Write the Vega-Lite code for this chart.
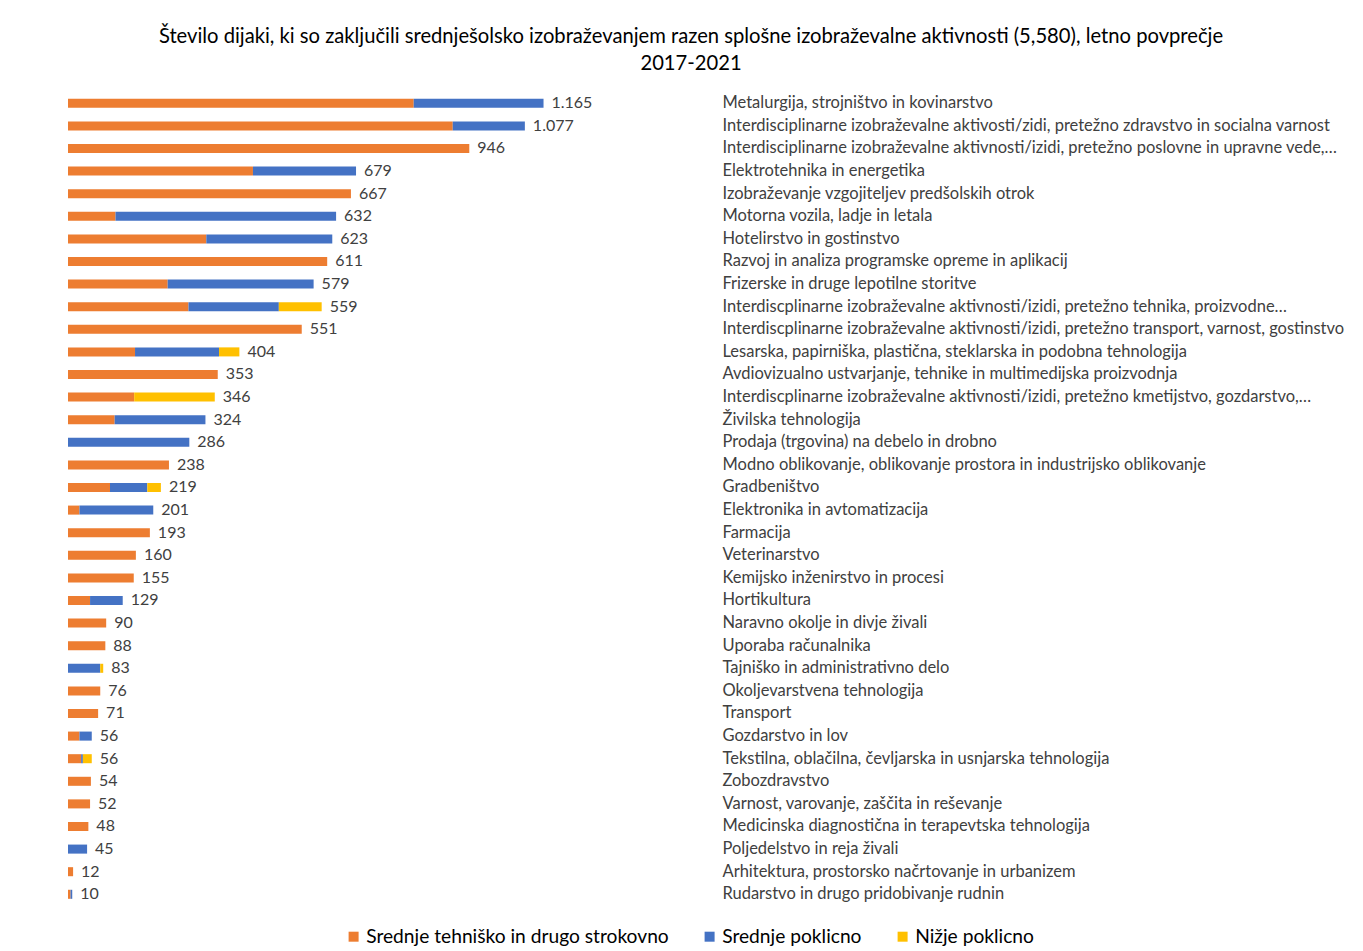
{
  "$schema": "https://vega.github.io/schema/vega-lite/v6.json",
  "width": 650,
  "height": 813.6,
  "padding": {"left": 67, "top": 26, "right": 0, "bottom": 0},
  "background": "white",
  "config": {"view": {"stroke": null}, "font": "Lato"},
  "title": {
    "text": ["Število dijaki, ki so zaključili srednješolsko izobraževanjem razen splošne izobraževalne aktivnosti (5,580), letno povprečje", "2017-2021"],
    "fontSize": 20.2, "fontWeight": "normal", "color": "#000000", "lineHeight": 27,
    "anchor": "middle", "frame": "group", "dx": 298, "offset": 18, "font": "Lato"
  },
  "data": {"values": [
    {"r":1,"cat":"Metalurgija, strojništvo in kovinarstvo","lvl":"Srednje tehniško in drugo strokovno","v":815,"label":"1.165"},
    {"r":1,"cat":"Metalurgija, strojništvo in kovinarstvo","lvl":"Srednje poklicno","v":306,"label":"1.165"},
    {"r":2,"cat":"Interdisciplinarne izobraževalne aktivosti/zidi, pretežno zdravstvo in socialna varnost","lvl":"Srednje tehniško in drugo strokovno","v":907,"label":"1.077"},
    {"r":2,"cat":"Interdisciplinarne izobraževalne aktivosti/zidi, pretežno zdravstvo in socialna varnost","lvl":"Srednje poklicno","v":170,"label":"1.077"},
    {"r":3,"cat":"Interdisciplinarne izobraževalne aktivnosti/izidi, pretežno poslovne in upravne vede,…","lvl":"Srednje tehniško in drugo strokovno","v":946,"label":"946"},
    {"r":4,"cat":"Elektrotehnika in energetika","lvl":"Srednje tehniško in drugo strokovno","v":436,"label":"679"},
    {"r":4,"cat":"Elektrotehnika in energetika","lvl":"Srednje poklicno","v":243,"label":"679"},
    {"r":5,"cat":"Izobraževanje vzgojiteljev predšolskih otrok","lvl":"Srednje tehniško in drugo strokovno","v":667,"label":"667"},
    {"r":6,"cat":"Motorna vozila, ladje in letala","lvl":"Srednje tehniško in drugo strokovno","v":112,"label":"632"},
    {"r":6,"cat":"Motorna vozila, ladje in letala","lvl":"Srednje poklicno","v":520,"label":"632"},
    {"r":7,"cat":"Hotelirstvo in gostinstvo","lvl":"Srednje tehniško in drugo strokovno","v":326,"label":"623"},
    {"r":7,"cat":"Hotelirstvo in gostinstvo","lvl":"Srednje poklicno","v":297,"label":"623"},
    {"r":8,"cat":"Razvoj in analiza programske opreme in aplikacij","lvl":"Srednje tehniško in drugo strokovno","v":611,"label":"611"},
    {"r":9,"cat":"Frizerske in druge lepotilne storitve","lvl":"Srednje tehniško in drugo strokovno","v":235,"label":"579"},
    {"r":9,"cat":"Frizerske in druge lepotilne storitve","lvl":"Srednje poklicno","v":344,"label":"579"},
    {"r":10,"cat":"Interdiscplinarne izobraževalne aktivnosti/izidi, pretežno tehnika, proizvodne…","lvl":"Srednje tehniško in drugo strokovno","v":284,"label":"559"},
    {"r":10,"cat":"Interdiscplinarne izobraževalne aktivnosti/izidi, pretežno tehnika, proizvodne…","lvl":"Srednje poklicno","v":213,"label":"559"},
    {"r":10,"cat":"Interdiscplinarne izobraževalne aktivnosti/izidi, pretežno tehnika, proizvodne…","lvl":"Nižje poklicno","v":101,"label":"559"},
    {"r":11,"cat":"Interdiscplinarne izobraževalne aktivnosti/izidi, pretežno transport, varnost, gostinstvo","lvl":"Srednje tehniško in drugo strokovno","v":551,"label":"551"},
    {"r":12,"cat":"Lesarska, papirniška, plastična, steklarska in podobna tehnologija","lvl":"Srednje tehniško in drugo strokovno","v":158,"label":"404"},
    {"r":12,"cat":"Lesarska, papirniška, plastična, steklarska in podobna tehnologija","lvl":"Srednje poklicno","v":198,"label":"404"},
    {"r":12,"cat":"Lesarska, papirniška, plastična, steklarska in podobna tehnologija","lvl":"Nižje poklicno","v":48,"label":"404"},
    {"r":13,"cat":"Avdiovizualno ustvarjanje,  tehnike in multimedijska proizvodnja","lvl":"Srednje tehniško in drugo strokovno","v":353,"label":"353"},
    {"r":14,"cat":"Interdiscplinarne izobraževalne aktivnosti/izidi, pretežno kmetijstvo, gozdarstvo,…","lvl":"Srednje tehniško in drugo strokovno","v":156,"label":"346"},
    {"r":14,"cat":"Interdiscplinarne izobraževalne aktivnosti/izidi, pretežno kmetijstvo, gozdarstvo,…","lvl":"Nižje poklicno","v":190,"label":"346"},
    {"r":15,"cat":"Živilska tehnologija","lvl":"Srednje tehniško in drugo strokovno","v":110,"label":"324"},
    {"r":15,"cat":"Živilska tehnologija","lvl":"Srednje poklicno","v":214,"label":"324"},
    {"r":16,"cat":"Prodaja (trgovina) na debelo in drobno","lvl":"Srednje poklicno","v":286,"label":"286"},
    {"r":17,"cat":"Modno oblikovanje, oblikovanje prostora in industrijsko oblikovanje","lvl":"Srednje tehniško in drugo strokovno","v":238,"label":"238"},
    {"r":18,"cat":"Gradbeništvo","lvl":"Srednje tehniško in drugo strokovno","v":99,"label":"219"},
    {"r":18,"cat":"Gradbeništvo","lvl":"Srednje poklicno","v":88,"label":"219"},
    {"r":18,"cat":"Gradbeništvo","lvl":"Nižje poklicno","v":32,"label":"219"},
    {"r":19,"cat":"Elektronika in avtomatizacija","lvl":"Srednje tehniško in drugo strokovno","v":27,"label":"201"},
    {"r":19,"cat":"Elektronika in avtomatizacija","lvl":"Srednje poklicno","v":174,"label":"201"},
    {"r":20,"cat":"Farmacija","lvl":"Srednje tehniško in drugo strokovno","v":193,"label":"193"},
    {"r":21,"cat":"Veterinarstvo","lvl":"Srednje tehniško in drugo strokovno","v":160,"label":"160"},
    {"r":22,"cat":"Kemijsko inženirstvo in procesi","lvl":"Srednje tehniško in drugo strokovno","v":155,"label":"155"},
    {"r":23,"cat":"Hortikultura","lvl":"Srednje tehniško in drugo strokovno","v":52,"label":"129"},
    {"r":23,"cat":"Hortikultura","lvl":"Srednje poklicno","v":77,"label":"129"},
    {"r":24,"cat":"Naravno okolje in divje živali","lvl":"Srednje tehniško in drugo strokovno","v":90,"label":"90"},
    {"r":25,"cat":"Uporaba računalnika","lvl":"Srednje tehniško in drugo strokovno","v":88,"label":"88"},
    {"r":26,"cat":"Tajniško in administrativno delo","lvl":"Srednje poklicno","v":76,"label":"83"},
    {"r":26,"cat":"Tajniško in administrativno delo","lvl":"Nižje poklicno","v":7,"label":"83"},
    {"r":27,"cat":"Okoljevarstvena tehnologija","lvl":"Srednje tehniško in drugo strokovno","v":76,"label":"76"},
    {"r":28,"cat":"Transport","lvl":"Srednje tehniško in drugo strokovno","v":71,"label":"71"},
    {"r":29,"cat":"Gozdarstvo in lov","lvl":"Srednje tehniško in drugo strokovno","v":27,"label":"56"},
    {"r":29,"cat":"Gozdarstvo in lov","lvl":"Srednje poklicno","v":29,"label":"56"},
    {"r":30,"cat":"Tekstilna, oblačilna, čevljarska in usnjarska tehnologija","lvl":"Srednje tehniško in drugo strokovno","v":31,"label":"56"},
    {"r":30,"cat":"Tekstilna, oblačilna, čevljarska in usnjarska tehnologija","lvl":"Srednje poklicno","v":4,"label":"56"},
    {"r":30,"cat":"Tekstilna, oblačilna, čevljarska in usnjarska tehnologija","lvl":"Nižje poklicno","v":21,"label":"56"},
    {"r":31,"cat":"Zobozdravstvo","lvl":"Srednje tehniško in drugo strokovno","v":54,"label":"54"},
    {"r":32,"cat":"Varnost, varovanje, zaščita in reševanje","lvl":"Srednje tehniško in drugo strokovno","v":52,"label":"52"},
    {"r":33,"cat":"Medicinska diagnostična in terapevtska tehnologija","lvl":"Srednje tehniško in drugo strokovno","v":48,"label":"48"},
    {"r":34,"cat":"Poljedelstvo in reja živali","lvl":"Srednje poklicno","v":45,"label":"45"},
    {"r":35,"cat":"Arhitektura, prostorsko načrtovanje in urbanizem","lvl":"Srednje tehniško in drugo strokovno","v":12,"label":"12"},
    {"r":36,"cat":"Rudarstvo in drugo pridobivanje rudnin","lvl":"Srednje tehniško in drugo strokovno","v":6,"label":"10"},
    {"r":36,"cat":"Rudarstvo in drugo pridobivanje rudnin","lvl":"Srednje poklicno","v":4,"label":"10"}
  ]},
  "encoding": {
    "y": {
      "field": "cat", "type": "nominal", "sort": {"field": "r", "op": "min"},
      "scale": {"paddingInner": 0.6, "paddingOuter": 0.3},
      "axis": {"orient": "right", "title": null, "domain": false, "ticks": false, "labelAlign": "left", "labelPadding": 4, "labelLimit": 800, "labelFontSize": 16.5, "labelColor": "#404040", "labelFont": "Lato"}
    }
  },
  "layer": [
    {
      "mark": {"type": "bar"},
      "encoding": {
        "x": {"field": "v", "type": "quantitative", "stack": "zero", "scale": {"domain": [0, 1532.3], "nice": false}, "axis": null},
        "order": {"field": "lvl", "sort": "descending"},
        "color": {
          "field": "lvl", "type": "nominal",
          "sort": ["Srednje tehniško in drugo strokovno", "Srednje poklicno", "Nižje poklicno"],
          "scale": {"domain": ["Srednje tehniško in drugo strokovno", "Srednje poklicno", "Nižje poklicno"], "range": ["#ED7D31", "#4472C4", "#FFC000"]},
          "legend": {"orient": "none", "legendX": 276, "legendY": 835, "direction": "horizontal", "title": null, "symbolType": "square", "symbolSize": 100, "symbolStrokeWidth": 0, "labelFontSize": 19.2, "labelLimit": 600, "labelColor": "#000000", "labelFont": "Lato", "columnPadding": 31, "labelOffset": 3}
        }
      }
    },
    {
      "transform": [{"aggregate": [{"op": "sum", "field": "v", "as": "end"}], "groupby": ["cat", "label", "r"]}],
      "mark": {"type": "text", "align": "left", "baseline": "middle", "dx": 8, "fontSize": 16, "color": "#404040", "font": "Lato"},
      "encoding": {
        "x": {"field": "end", "type": "quantitative"},
        "text": {"field": "label", "type": "nominal"}
      }
    },
    {
      "mark": {"type": "rule", "color": "#d9d9d9", "strokeWidth": 1.5},
      "encoding": {"x": {"datum": 0}}
    }
  ]
}
